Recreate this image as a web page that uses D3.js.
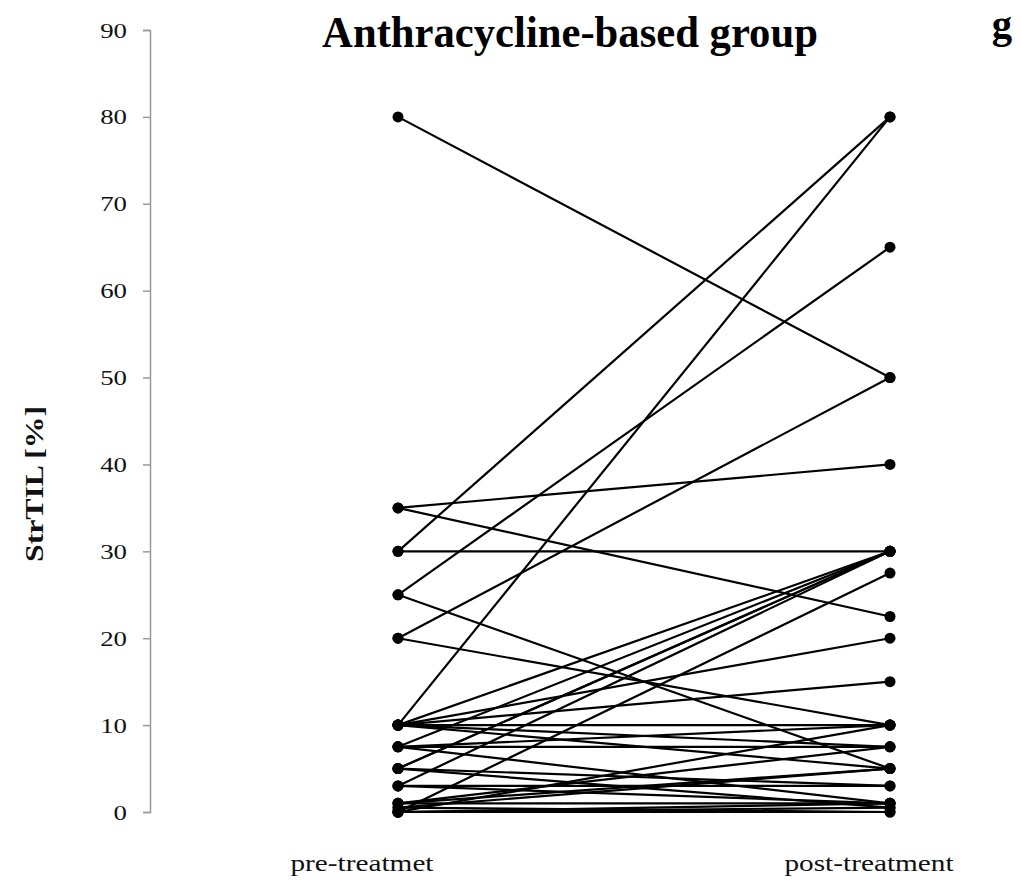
<!DOCTYPE html>
<html>
<head>
<meta charset="utf-8">
<script src="https://cdn.jsdelivr.net/npm/d3@7"></script>
<style>
  body { margin: 0; background: #fff; }
  text { font-family: "Liberation Serif", "Times New Roman", serif; }
</style>
</head>
<body>
<svg id="chart" width="1021" height="883"></svg>
<script>
// time points
var timepoints = ["pre-treatmet", "post-treatment"];
// StrTIL [%] per patient
var preValues  = [80, 35, 35, 30, 30, 25, 25, 20, 20, 10,
                  10, 7.5, 5, 5, 3, 0, 10, 10, 10, 10,
                  10, 7.5, 7.5, 7.5, 5, 5, 3, 3, 1, 1,
                  0.5, 0.5, 0, 0, 0, 1, 0];
var postValues = [50, 40, 22.5, 30, 80, 65, 5, 50, 10, 80,
                  30, 30, 30, 30, 30, 27.5, 20, 15, 10, 7.5,
                  5, 10, 7.5, 1, 3, 0.5, 3, 1, 5, 7.5,
                  5, 0, 0, 1, 0.5, 1, 10];
var yTicks = [0, 10, 20, 30, 40, 50, 60, 70, 80, 90];

var svg = d3.select("#chart");

var x = d3.scalePoint().domain(timepoints).range([398, 890]);
var y = d3.scaleLinear().domain([0, 90]).range([812, 30]);

// the source figure is stretched sideways a little
var stretch = 1.22;

// y axis
var yAxis = svg.append("g")
    .attr("transform", "translate(150,0)")
    .call(d3.axisLeft(y).tickValues(yTicks).tickSize(7).tickFormat(d3.format("d")));
yAxis.select(".domain").attr("stroke", "#999").attr("stroke-width", 1.5);
yAxis.selectAll(".tick line").attr("stroke", "#999").attr("stroke-width", 1.5);
yAxis.selectAll(".tick text")
    .attr("x", -23 / stretch)
    .attr("transform", "scale(" + stretch + ",1)")
    .attr("font-family", "Liberation Serif")
    .attr("font-size", 22)
    .attr("fill", "#111");

// x labels
var labelCenter = [362, 869];
svg.selectAll(".xlab")
  .data(timepoints)
  .enter().append("text")
    .attr("class", "xlab")
    .attr("transform", function(d, i) { return "translate(" + labelCenter[i] + ",871) scale(" + stretch + ",1)"; })
    .attr("text-anchor", "middle")
    .attr("font-size", 24)
    .attr("fill", "#111")
    .text(function(d) { return d; });

// y label
svg.append("text")
    .attr("transform", "translate(43,484) rotate(-90) scale(" + stretch + ",1)")
    .attr("text-anchor", "middle")
    .attr("font-size", 26)
    .attr("font-weight", "bold")
    .attr("fill", "#111")
    .text("StrTIL [%]");

// title
svg.append("text")
    .attr("transform", "translate(570,47) scale(0.97,1)")
    .attr("text-anchor", "middle")
    .attr("font-size", 44)
    .attr("font-weight", "bold")
    .text("Anthracycline-based group");

svg.append("text")
    .attr("transform", "translate(1002,38) scale(0.97,1)")
    .attr("text-anchor", "middle")
    .attr("font-size", 42)
    .attr("font-weight", "bold")
    .text("g");

// lines
var pairs = preValues.map(function(v, i) { return [v, postValues[i]]; });
var line = d3.line()
    .x(function(d, i) { return x(timepoints[i]); })
    .y(function(d) { return y(d); });

svg.append("g").selectAll("path")
  .data(pairs)
  .enter().append("path")
    .attr("d", line)
    .attr("fill", "none")
    .attr("stroke", "#000")
    .attr("stroke-width", 2.2);

// dots
var dots = [];
pairs.forEach(function(p) {
  dots.push({t: timepoints[0], v: p[0]});
  dots.push({t: timepoints[1], v: p[1]});
});
svg.append("g").selectAll("circle")
  .data(dots)
  .enter().append("circle")
    .attr("cx", function(d) { return x(d.t); })
    .attr("cy", function(d) { return y(d.v); })
    .attr("r", 5.5)
    .attr("fill", "#000");
</script>
</body>
</html>
